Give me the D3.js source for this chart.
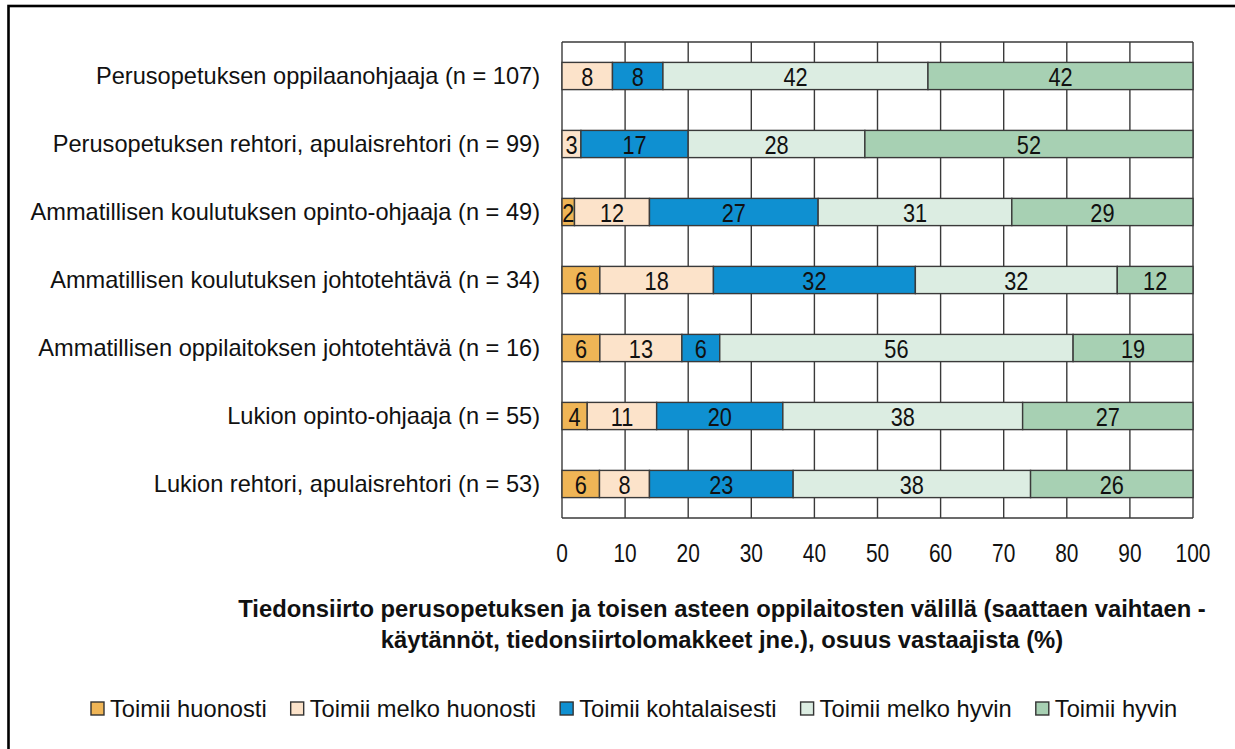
<!DOCTYPE html>
<html lang="fi">
<head>
<meta charset="UTF-8">
<title>Tiedonsiirto</title>
<script src="https://d3js.org/d3.v7.min.js"></script>
<style>
  body { margin: 0; background: #fff; }
  svg { display: block; }
</style>
</head>
<body>
<div id="chart"></div>
<script>
// categories (top to bottom)
const categories = [
  "Perusopetuksen oppilaanohjaaja (n = 107)",
  "Perusopetuksen rehtori, apulaisrehtori (n = 99)",
  "Ammatillisen koulutuksen opinto-ohjaaja (n = 49)",
  "Ammatillisen koulutuksen johtotehtävä (n = 34)",
  "Ammatillisen oppilaitoksen johtotehtävä (n = 16)",
  "Lukion opinto-ohjaaja (n = 55)",
  "Lukion rehtori, apulaisrehtori (n = 53)"
];

const seriesNames = ["Toimii huonosti", "Toimii melko huonosti", "Toimii kohtalaisesti", "Toimii melko hyvin", "Toimii hyvin"];

// values in % (as printed on the bars)
const huonosti      = [0, 0, 2, 6, 6, 4, 6];
const melkoHuonosti = [8, 3, 12, 18, 13, 11, 8];
const kohtalaisesti = [8, 17, 27, 32, 6, 20, 23];
const melkoHyvin    = [42, 28, 31, 32, 56, 38, 38];
const hyvin         = [42, 52, 29, 12, 19, 27, 26];

const xTicks = [0, 10, 20, 30, 40, 50, 60, 70, 80, 90, 100];

const colors = ["#EFB556", "#FCE3CA", "#0F90D1", "#DCEDE2", "#A7D0B3"];

const W = 1235, H = 749;
const margin = { top: 42, left: 562, right: 1193, bottom: 518 };

// check if a narrow font is available
function hasFont(name) {
  const c = document.createElement("canvas").getContext("2d");
  c.font = "40px monospace";
  const a = c.measureText("Toimii melko huonosti 0123").width;
  c.font = `40px '${name}', monospace`;
  return c.measureText("Toimii melko huonosti 0123").width !== a;
}
const narrowOk = hasFont("Liberation Sans Narrow");
const narrowFamily = narrowOk ? "'Liberation Sans Narrow', 'Arial Narrow', sans-serif" : "'Liberation Sans', Arial, sans-serif";
const squeeze = narrowOk ? 1 : 0.82;
const regular = "'Liberation Sans', Arial, sans-serif";

// put narrow text at x,y
function narrow(sel, x, y) {
  return sel.attr("transform", `translate(${x},${y}) scale(${squeeze},1)`)
    .style("font-family", narrowFamily);
}

const svg = d3.select("#chart").append("svg")
  .attr("width", W).attr("height", H);

// outer frame (cut at right and bottom)
svg.append("rect")
  .attr("x", 8.5).attr("y", 6)
  .attr("width", 1300).attr("height", 900)
  .attr("fill", "none").attr("stroke", "#000").attr("stroke-width", 2.6);

const x = d3.scaleLinear().domain([0, 100]).range([margin.left, margin.right]);
const y = d3.scaleBand().domain(categories).range([margin.top, margin.bottom])
  .paddingInner(0.6).paddingOuter(0.3);

// grid
const grid = svg.append("g").attr("stroke", "#3a3a3a").attr("stroke-width", 1.4);
grid.selectAll("line.v").data(xTicks).join("line")
  .attr("x1", d => x(d)).attr("x2", d => x(d))
  .attr("y1", margin.top).attr("y2", margin.bottom);
grid.append("line").attr("x1", x(0)).attr("x2", x(100)).attr("y1", margin.top).attr("y2", margin.top);
grid.append("line").attr("x1", x(0)).attr("x2", x(100)).attr("y1", margin.bottom).attr("y2", margin.bottom);

// stack
const allSeries = [huonosti, melkoHuonosti, kohtalaisesti, melkoHyvin, hyvin];
const rows = categories.map((c, i) => {
  const vals = allSeries.map(s => s[i]);
  const total = d3.sum(vals);
  let acc = 0;
  return vals.map((v, k) => {
    const seg = { cat: c, k, v, x0: acc / total * 100, x1: (acc + v) / total * 100 };
    acc += v;
    return seg;
  });
});
const segs = rows.flat().filter(d => d.v > 0);

svg.append("g").selectAll("rect").data(segs).join("rect")
  .attr("x", d => x(d.x0))
  .attr("y", d => y(d.cat))
  .attr("width", d => x(d.x1) - x(d.x0))
  .attr("height", y.bandwidth())
  .attr("fill", d => colors[d.k])
  .attr("stroke", "#3a3a3a").attr("stroke-width", 1.4);

// bar labels
svg.append("g").selectAll("text").data(segs).join("text")
  .attr("text-anchor", "middle")
  .style("font-size", "26.5px").attr("fill", "#111")
  .text(d => d.v)
  .each(function (d) {
    narrow(d3.select(this), (x(d.x0) + x(d.x1)) / 2, y(d.cat) + y.bandwidth() / 2 + 9.5);
  });

// category labels
svg.append("g").selectAll("text").data(categories).join("text")
  .attr("x", 540)
  .attr("y", d => y(d) + y.bandwidth() / 2 + 8)
  .attr("text-anchor", "end")
  .style("font-family", regular)
  .style("font-size", "23.6px").attr("fill", "#111")
  .text(d => d);

// x tick labels
svg.append("g").selectAll("text").data(xTicks).join("text")
  .attr("text-anchor", "middle")
  .style("font-size", "25.5px").attr("fill", "#111")
  .text(d => d)
  .each(function (d) { narrow(d3.select(this), x(d), 562); });

// axis title
const titleLines = [
  "Tiedonsiirto perusopetuksen ja toisen asteen oppilaitosten välillä (saattaen vaihtaen -",
  "käytännöt, tiedonsiirtolomakkeet jne.), osuus vastaajista (%)"
];
svg.append("g").selectAll("text").data(titleLines).join("text")
  .attr("x", 722)
  .attr("y", (d, i) => 617 + i * 31)
  .attr("text-anchor", "middle")
  .style("font-family", regular)
  .style("font-size", "23.8px").style("font-weight", "bold").attr("fill", "#111")
  .text(d => d);

// legend
const legend = svg.append("g");
let lx = 91;
seriesNames.forEach((name, i) => {
  legend.append("rect")
    .attr("x", lx).attr("y", 702)
    .attr("width", 13).attr("height", 13)
    .attr("fill", colors[i]).attr("stroke", "#333").attr("stroke-width", 1.4);
  const t = legend.append("text")
    .attr("x", lx + 19).attr("y", 717)
    .style("font-family", regular)
    .style("font-size", "23.7px").attr("fill", "#111")
    .text(name);
  lx += 19 + t.node().getComputedTextLength() + 24;
});
</script>
</body>
</html>
